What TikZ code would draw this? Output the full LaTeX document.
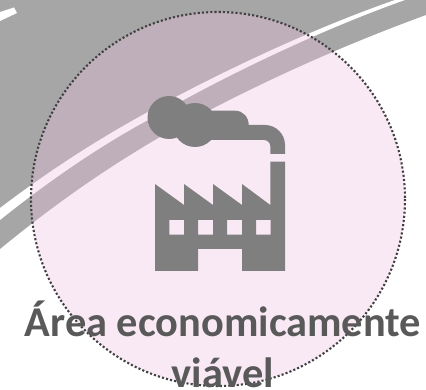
\documentclass[tikz,border=0pt]{standalone}
\usepackage{fontspec}
\setmainfont{Carlito}
\definecolor{bandgray}{RGB}{166,166,166}
\definecolor{circlepink}{RGB}{238,192,226}
\definecolor{icongray}{RGB}{127,127,127}
\definecolor{labelgray}{RGB}{89,89,89}
\definecolor{ringgray}{RGB}{64,64,64}
\tikzset{
  stripe/.style={fill=white,draw=none},
  icon/.style={fill=icongray,draw=none,even odd rule},
  ring/.style={draw=ringgray,line width=2.1pt,dash pattern=on 2.1pt off 2.1pt},
  label/.style={font=\bfseries\fontsize{42.4}{51}\selectfont,text=labelgray,align=center,inner sep=0pt}
}
\begin{document}
\begin{tikzpicture}[x=1pt,y=-1pt]
\useasboundingbox (0,0) rectangle (426,390);
\clip (0,0) rectangle (426,390);
% gray band
\fill[bandgray] (0,0) -- (426,0) -- (426,15) .. controls (330,50) and (240,92) .. (160,137) .. controls (100,172) and (50,208) .. (0,249) -- cycle;
\fill[stripe] (0,12) -- (14,7.5) -- (17,13) -- (0,21) -- cycle;
\fill[stripe] (0,208) .. controls (50,170) and (100,138) .. (148,112) .. controls (200,83) and (300,33) .. (395,0) -- (405,0) .. controls (320,30) and (220,78) .. (148,120) .. controls (100,146) and (50,180) .. (0,220) -- cycle;
% circle
\fill[circlepink,fill opacity=.35] (218,199) circle (187);
% factory
\path[icon] (155,184) -- (184,205) -- (184,184) -- (213,205) -- (213,184) -- (242,205) -- (242,184) -- (270.3,205) -- (270.3,161.7) -- (285,161.7) -- (285,271) -- (242,271) -- (242,249) -- (198,249) -- (198,271) -- (155,271) -- cycle
 (169.3,220) rectangle (184,234.7)
 (198,220) rectangle (213,234.7)
 (227,220) rectangle (242,234.7)
 (256,220) rectangle (270.7,234.7);
% smoke
\fill[icongray] (169,117.5) circle (21.5);
\fill[icongray] (195,125) circle (22);
\fill[icongray] (180,110.7) -- (235,110.7) .. controls (243,110.7) and (248.7,117) .. (248.7,125) -- (265,125) .. controls (276,125) and (285,134) .. (285,145) -- (285,154) -- (270.3,154) -- (270.3,146) .. controls (270.3,142.7) and (267.3,140) .. (264,140) -- (180,140) -- cycle;
% ring
\draw[ring] (218,199) circle (187);
% label
\node[label] (lab) at (223,344.5) {Área economicamente\\viável};
\end{tikzpicture}
\end{document}
